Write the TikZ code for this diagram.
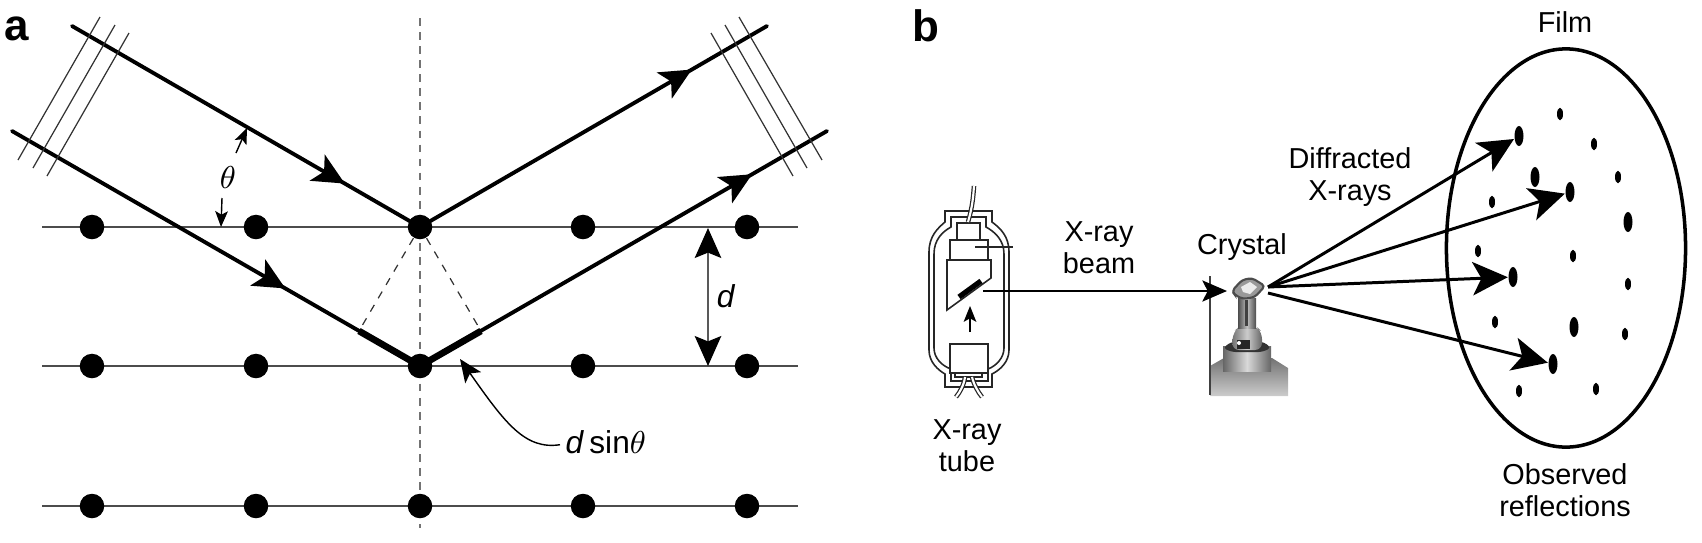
\documentclass[tikz,border=0pt]{standalone}
\usepackage{fontspec}
\setmainfont{Liberation Sans}
\usepackage{tikz}
\usetikzlibrary{calc,positioning,arrows.meta,shapes.geometric,decorations.markings}
\newcommand{\lblfont}{\fontsize{8.2}{9}\selectfont}

\begin{document}
\begin{tikzpicture}[x=0.01cm, y=-0.01cm]
\tikzstyle{atom}=[circle, fill=black, inner sep=0pt, minimum width=2.45mm]
\tikzstyle{lbl}=[anchor=base, inner sep=0pt, font=\lblfont, align=center]
\tikzstyle{panel}=[anchor=base, inner sep=0pt, font=\fontsize{12.5}{14}\selectfont\bfseries]
\tikzstyle{ray}=[line width=1.1pt, line cap=round]
\tikzstyle{front}=[line width=.35pt, black!80]
\tikzstyle{row}=[line width=.5pt, black!70]
\tikzstyle{drop}=[line width=.35pt, black!80, dash pattern=on 2.2pt off 2.2pt]
\tikzstyle{bigtip}=[-{Stealth[length=10pt,width=9.5pt,inset=2.5pt]}, line width=.85pt]
\tikzstyle{smalltip}=[-{Stealth[length=4.5pt,width=3.6pt,inset=1pt]}, line width=.4pt]
\tikzstyle{midtip}=[postaction={decorate}, decoration={markings, mark=at position #1 with {\arrow{Stealth[length=9pt,width=8.5pt,inset=2.2pt]}}}]
\tikzstyle{spot}=[ellipse, fill=black, inner sep=0pt]
\tikzstyle{tube}=[line width=.45pt, black!85]
\useasboundingbox (0,0) rectangle (1702,542);

% panel a
\foreach \r/\y in {1/227,2/366,3/506}{
  \coordinate (rowl\r) at (42,\y);
  \coordinate (rowr\r) at (798,\y);
  \draw[row] (rowl\r) -- (rowr\r);
}
\coordinate (axt) at (420,18);
\coordinate (axb) at (420,528);
\draw[line width=.75pt, black!55, dash pattern=on 2.2pt off 1.8pt] (axt) -- (axb);
\foreach \r/\y in {1/227,2/366,3/506}{
  \foreach \c/\x in {1/92,2/256,3/420,4/583,5/747}{
    \node[atom] (a\r\c) at (\x,\y) {};
  }
}
\coordinate (in1) at (72,26);
\coordinate (in2) at (12,131);
\coordinate (out1) at (767,26);
\coordinate (out2) at (827,131);
\draw[ray, midtip=.784] (in1) -- (a13.center);
\draw[ray, midtip=.67] (in2) -- (a23.center);
\draw[ray, midtip=.784] (a13.center) -- (out1);
\draw[ray, midtip=.816] (a23.center) -- (out2);
\foreach \xa/\ya/\xb/\yb in {100/17/18/160,115/25/33/168,129/33/47/176,711/33/793/176,725/25/807/168,739/17/822/160}{
  \draw[front] (\xa,\ya) -- (\xb,\yb);
}
\coordinate (pl) at (359,331);
\coordinate (pr) at (481,331);
\draw[line width=1.9pt] (pl) -- (a23.center);
\draw[line width=1.9pt] (pr) -- (a23.center);
\draw[drop] (a13) -- (pl);
\draw[drop] (a13) -- (pr);
\node[lbl] (theta) at (228,188) {\fontsize{9.5}{9}\selectfont$\theta$};
\coordinate (thu) at (247,128);
\coordinate (thd) at (221,227);
\draw[smalltip] (236,153) -- (thu);
\draw[smalltip] (222,198) -- (thd);
\coordinate (dtop) at (708,228);
\coordinate (dbot) at (708,366);
\draw[line width=.75pt, black!65, {Stealth[length=8.5pt,width=7.5pt,inset=1.5pt,black]}-{Stealth[length=8.5pt,width=7.5pt,inset=1.5pt,black]}] (dtop) -- (dbot);
\node[lbl] (dlbl) at (726,307) {\fontsize{9}{9}\selectfont\textit{d}};
\node[lbl, anchor=base west] (dsin) at (565,453) {\fontsize{9}{9}\selectfont\textit{d}\,sin$\theta$};
\coordinate (dtip) at (460,359);
\draw[smalltip, -{Stealth[length=6.5pt,width=5.5pt,inset=1.5pt]}] (dsin.west) ++(-5,3) .. controls (525,450) and (505,423) .. (dtip);
\node[panel] (pa) at (17,40) {a};

% panel b: tube
\draw[tube] (929,350) -- (929,252) .. controls (929,236) and (938,228) .. (945,222) -- (945,211) -- (992,211) -- (992,222)
  .. controls (1000,228) and (1009,236) .. (1009,252) -- (1009,350) .. controls (1009,362) and (1000,370) .. (992,374)
  -- (992,387) -- (945,387) -- (945,374) .. controls (938,370) and (929,362) .. (929,350) -- cycle;
\draw[tube] (934,348) -- (934,254) .. controls (934,240) and (942,232) .. (951,227) -- (951,217) -- (986,217) -- (986,227)
  .. controls (995,232) and (1004,240) .. (1004,254) -- (1004,348) .. controls (1004,358) and (996,366) .. (988,369)
  -- (988,381) -- (951,381) -- (951,369) .. controls (942,366) and (934,358) .. (934,348) -- cycle;
\draw[tube, fill=white] (957,223) rectangle (980,240);
\draw[tube, fill=white] (950,240) rectangle (988,260);
\draw[tube, fill=white] (947,260) -- (991,260) -- (991,278) -- (947,310) -- cycle;
\draw[line width=1.5pt] (959,297) -- (981,281);
\draw[tube] (975,247) -- (1013,247);
\draw[smalltip] (970,332) -- (970,306);
\draw[tube, fill=white] (950,344) rectangle (988,373);
\draw[tube, fill=white] (955,373) rectangle (982,377);
\draw[tube, double=white, double distance=.6pt, line width=.35pt] (974,186) .. controls (973,200) and (972,208) .. (968,222);
\draw[tube, double=white, double distance=.6pt, line width=.35pt] (965,377) .. controls (964,385) and (960,392) .. (956,397);
\draw[tube, double=white, double distance=.6pt, line width=.35pt] (972,377) .. controls (974,385) and (978,392) .. (982,397);
\node[lbl] (tubelbl) at (967,471) {X-ray\\[0pt]tube};

% crystal on its mount
\shade[top color=black!55, bottom color=black!20] (1210,396) -- (1210,366) -- (1224,358) -- (1272,358) -- (1288,368) -- (1288,396) -- cycle;
\shade[left color=black!60, right color=black!60, middle color=black!15] (1223,346) rectangle (1271,371);
\fill[black!80, rounded corners=1pt] (1223,348) -- (1231,342) -- (1264,342) -- (1271,348) -- (1262,352) -- (1232,352) -- cycle;
\shade[left color=black!55, right color=black!60, middle color=black!20, rounded corners=2pt] (1232,350) -- (1233,332) -- (1240,326) -- (1256,326) -- (1262,332) -- (1262,350) -- cycle;
\fill[black!85] (1237,340) rectangle (1250,349);
\fill[white] (1239,343) circle (2);
\shade[left color=black!70, right color=black!70, middle color=black!25] (1238,298) rectangle (1256,328);
\fill[black!75] (1245,300) rectangle (1248,326);
\draw[black!70, line width=.6pt, fill=black!40, rounded corners=1pt] (1232,291) -- (1242,280) -- (1252,278) -- (1265,286) -- (1255,297) -- (1243,299) -- (1235,295) -- cycle;
\fill[black!8] (1241,287) -- (1250,282) -- (1257,287) -- (1250,294) -- (1243,292) -- cycle;
\coordinate (cry1) at (1268,287);
\coordinate (cry2) at (1268,293);
\node[lbl] (crylbl) at (1242,254) {Crystal};

% beam
\coordinate (beamst) at (983,291);
\coordinate (beamend) at (1227,291);
\coordinate (postt) at (1210,276);
\coordinate (postb) at (1210,395);
\draw[line width=.5pt, black!75] (postt) -- (postb);
\draw[line width=.6pt, -{Stealth[length=7pt,width=6pt,inset=1.5pt]}] (beamst) -- (beamend);
\node[lbl] (beamlbl) at (1099,273) {X-ray\\[0pt]beam};

% film
\node[draw, ellipse, line width=1pt, inner sep=0pt, minimum width=2.39cm, minimum height=3.98cm] (film) at (1566,248) {};
\foreach \x/\y in {1560/114,1594/144,1618/177,1492/202,1478/251,1573/256,1628/284,1495/322,1625/334,1519/391,1596/389}{
  \node[spot, minimum width=.6mm, minimum height=1.25mm] at (\x,\y) {};
}
\foreach \n/\x/\y in {s1/1519/136,s2/1535/177,s3/1570/192,s4/1628/222,s5/1513/277,s6/1574/327,s7/1553/364}{
  \node[spot, minimum width=.9mm, minimum height=2mm] (\n) at (\x,\y) {};
}
\draw[bigtip] (cry1) -- (s1);
\draw[bigtip] (cry1) -- (s3);
\draw[bigtip] (cry1) -- (s5);
\draw[bigtip] (cry2) -- (s7);
\node[lbl] (filmlbl) at (1565,32) {Film};
\node[lbl] (obslbl) at (1565,516) {Observed\\[0pt]reflections};
\node[lbl] (diflbl) at (1350,200) {Diffracted\\[0pt]X-rays};
\node[panel] (pb) at (926,41) {b};
\end{tikzpicture}
\end{document}
